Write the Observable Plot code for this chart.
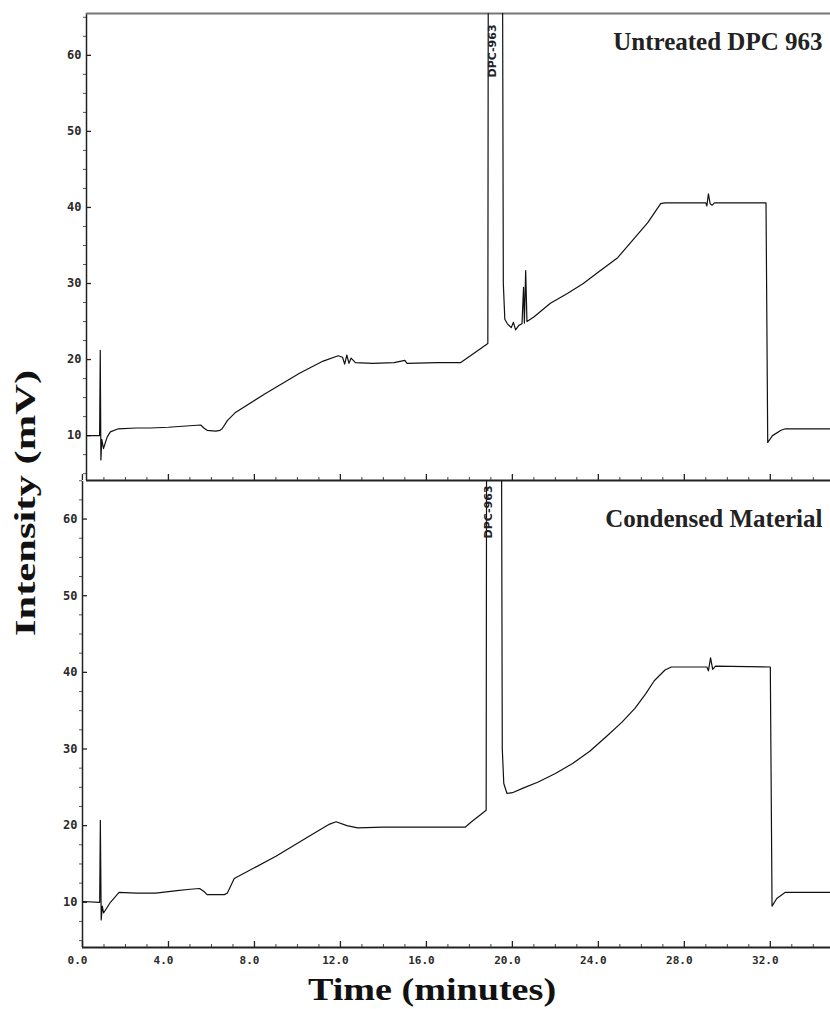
<!DOCTYPE html>
<html>
<head>
<meta charset="utf-8">
<script src="https://cdn.jsdelivr.net/npm/d3@7"></script>
<script src="https://cdn.jsdelivr.net/npm/@observablehq/plot@0.6"></script>
<style>
  body { margin: 0; background: #fff; }
  #chart { position: relative; width: 830px; height: 1009px; overflow: hidden; background: #fff; }
  #chart svg { display: block; }
  #ylabel { position: absolute; left: 25px; top: 503px; transform: translate(-50%, -50%) rotate(-90deg) scaleX(1.42);
            font: bold 30px "Liberation Serif", "Times New Roman", serif; line-height: 1; white-space: nowrap; color: #111; }
  #xlabel { position: absolute; left: 432px; top: 974px; transform: translateX(-50%) scaleX(1.23);
            font: bold 31px "Liberation Serif", "Times New Roman", serif; line-height: 1; white-space: nowrap; color: #111; }
</style>
</head>
<body>
<div id="chart"></div>
<script>
// ---- Data ----
const untreatedTime = [0.2, 0.80, 0.83, 0.86, 0.90, 0.98, 1.15, 1.30, 1.67, 2.5, 3.16, 4.0, 5.0, 5.5, 5.65, 5.8, 6.2, 6.4, 6.5, 6.75, 7.1, 8.5, 10.1, 11.2, 11.9, 12.1, 12.2, 12.3, 12.4, 12.5, 12.7, 13.5, 14.5, 15.0, 15.1, 16.5, 17.6, 18.2, 18.86, 18.9, 19.5, 19.58, 19.65, 19.77, 19.95, 20.05, 20.15, 20.3, 20.45, 20.52, 20.56, 20.62, 20.68, 21.0, 21.77, 22.56, 23.3, 24.1, 24.9, 25.6, 26.3, 26.9, 27.1, 29.0, 29.05, 29.12, 29.2, 29.3, 29.4, 31.8, 31.88, 32.1, 32.5, 32.7, 34.8];
const untreatedMv   = [10.0, 10.0, 21.2, 6.8, 9.5, 8.3, 9.8, 10.5, 10.9, 11.0, 11.0, 11.1, 11.3, 11.4, 11.0, 10.7, 10.6, 10.7, 10.9, 12.0, 13.0, 15.5, 18.2, 19.8, 20.5, 20.3, 19.4, 20.6, 19.5, 20.2, 19.6, 19.5, 19.6, 19.9, 19.5, 19.6, 19.6, 20.8, 22.1, 120, 120, 30.0, 25.3, 24.7, 24.2, 24.9, 23.9, 24.5, 24.7, 29.5, 24.8, 31.7, 25.0, 25.6, 27.4, 28.7, 30.0, 31.7, 33.4, 35.7, 38.0, 40.5, 40.6, 40.6, 40.2, 41.8, 40.5, 40.3, 40.6, 40.6, 9.1, 10.0, 10.7, 10.9, 10.9];

const condensedTime = [0.0, 0.80, 0.83, 0.87, 0.92, 0.98, 1.3, 1.7, 2.5, 3.4, 4.3, 5.0, 5.45, 5.65, 5.8, 6.6, 6.74, 7.06, 9.0, 10.6, 11.5, 11.8, 12.3, 12.8, 14.0, 17.8, 18.1, 18.78, 18.82, 19.45, 19.53, 19.6, 19.75, 20.0, 20.5, 21.2, 22.0, 22.8, 23.6, 24.4, 25.1, 25.7, 26.2, 26.6, 27.1, 27.4, 29.05, 29.12, 29.22, 29.32, 29.45, 32.0, 32.08, 32.3, 32.7, 34.8];
const condensedMv   = [10.1, 10.0, 20.7, 7.7, 9.5, 8.6, 10.0, 11.3, 11.2, 11.2, 11.5, 11.7, 11.8, 11.4, 11.0, 11.0, 11.2, 13.1, 16.0, 18.7, 20.2, 20.5, 20.0, 19.7, 19.8, 19.8, 20.5, 22.0, 120, 120, 30.0, 25.5, 24.2, 24.3, 24.9, 25.7, 26.8, 28.1, 29.7, 31.7, 33.5, 35.3, 37.2, 38.9, 40.3, 40.7, 40.7, 40.2, 41.9, 40.4, 40.8, 40.7, 9.5, 10.5, 11.3, 11.3];

const panelTitles = ["Untreated DPC 963", "Condensed Material"];
const peakName = "DPC-963";
const peakTime = [19.07, 18.9];

const yTicks = [10, 20, 30, 40, 50, 60];
const yMinorTicks = [5, 7.5, 12.5, 15, 17.5, 22.5, 25, 27.5, 32.5, 35, 37.5, 42.5, 45, 47.5, 52.5, 55, 57.5, 62.5, 65];
const xTicks = [0, 4, 8, 12, 16, 20, 24, 28, 32];
const xTickLabels = ["0.0", "4.0", "8.0", "12.0", "16.0", "20.0", "24.0", "28.0", "32.0"];
const xMinorTicks = [1, 2, 3, 5, 6, 7, 9, 10, 11, 13, 14, 15, 17, 18, 19, 21, 22, 23, 25, 26, 27, 29, 30, 31, 33, 34];

const axisLabelY = "Intensity (mV)";
const axisLabelX = "Time (minutes)";

function panel({time, mv, title, peakAt, height, marginTop, marginBottom, marginLeft, xDomain, yDomain, titleDy, peakDy, topBorder, showXLabels}) {
  const data = time.map((t, i) => ({t, v: mv[i]}));
  return Plot.plot({
    width: 830,
    height,
    marginTop,
    marginBottom,
    marginLeft,
    marginRight: 0,
    x: {domain: xDomain},
    y: {domain: yDomain},
    style: {fontFamily: "'DejaVu Sans Mono', monospace", fontSize: "11px", color: "#222", background: "transparent", overflow: "visible"},
    marks: [
      // tick marks only (no text)
      Plot.axisY(yTicks, {anchor: "left", tickSize: -5, fill: "none", label: null, stroke: "#222", strokeWidth: 1.3}),
      Plot.axisY(yMinorTicks, {anchor: "left", tickSize: 3, fill: "none", label: null, stroke: "#555"}),
      Plot.axisX(xTicks, {anchor: "bottom", tickSize: -6, fill: "none", label: null, stroke: "#222", strokeWidth: 1.3}),
      Plot.axisX(xMinorTicks, {anchor: "bottom", tickSize: -3, fill: "none", label: null, stroke: "#444"}),
      // tick labels only
      Plot.axisY(yTicks, {anchor: "left", tickSize: 0, tickPadding: 5, label: null, fontSize: 12, fontWeight: "bold", fill: "#2a2a2a"}),
      showXLabels ? Plot.axisX(xTicks, {anchor: "bottom", tickSize: 0, tickPadding: 9, dx: -5, label: null,
        tickFormat: d => xTickLabels[xTicks.indexOf(d)], fontSize: 11, fontWeight: "bold", fill: "#2a2a2a"}) : null,
      // axis lines and borders
      Plot.ruleX([xDomain[0]], {stroke: "#222", strokeWidth: 1.5}),
      Plot.ruleY([yDomain[0]], {stroke: "#222", strokeWidth: 2}),
      topBorder ? Plot.ruleY([yDomain[1]], {stroke: "#777", strokeWidth: 2}) : null,
      // chromatogram trace
      Plot.line(data, {x: "t", y: "v", stroke: "#111", strokeWidth: 1.2, clip: true}),
      // peak annotation and panel title
      Plot.text([peakName], {x: peakAt, frameAnchor: "top", rotate: -90, textAnchor: "start", lineAnchor: "middle",
        dy: peakDy, fontSize: 11, fontWeight: "bold", fontFamily: "DejaVu Sans", fill: "#222", clip: true}),
      Plot.text([title], {frameAnchor: "top-right", textAnchor: "end", lineAnchor: "top", dx: -8, dy: titleDy,
        fontSize: 25, fontWeight: "bold", fontFamily: "'Liberation Serif', 'Times New Roman', serif", fill: "#222"})
    ]
  });
}

const chart = document.getElementById("chart");

chart.append(panel({
  time: untreatedTime, mv: untreatedMv, title: panelTitles[0], peakAt: peakTime[0],
  height: 481, marginTop: 13, marginBottom: 1, marginLeft: 86,
  xDomain: [0.19, 34.8], yDomain: [4.1, 65.5], titleDy: 19, peakDy: 64, topBorder: true, showXLabels: false
}));

chart.append(panel({
  time: condensedTime, mv: condensedMv, title: panelTitles[1], peakAt: peakTime[1],
  height: 528, marginTop: 0, marginBottom: 62, marginLeft: 82,
  xDomain: [0, 34.8], yDomain: [4.1, 64.9], titleDy: 28, peakDy: 57, topBorder: false, showXLabels: true
}));

const yl = document.createElement("div");
yl.id = "ylabel";
yl.textContent = axisLabelY;
chart.append(yl);

const xl = document.createElement("div");
xl.id = "xlabel";
xl.textContent = axisLabelX;
chart.append(xl);
</script>
</body>
</html>
